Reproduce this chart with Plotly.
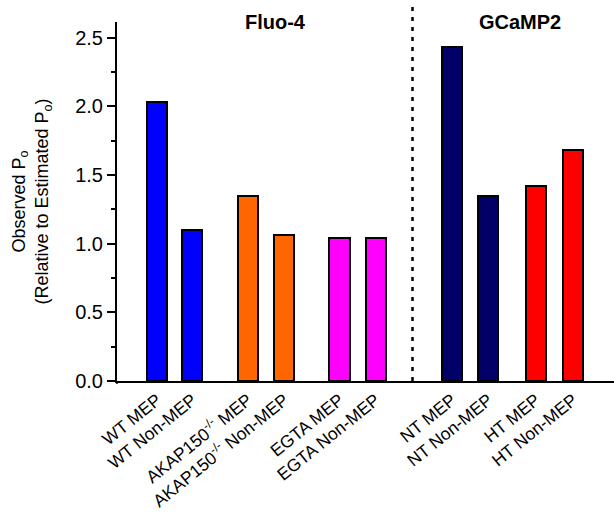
import plotly.graph_objects as go

labels = ["WT MEP", "WT Non-MEP", "AKAP150<sup>-/-</sup> MEP", "AKAP150<sup>-/-</sup> Non-MEP",
          "EGTA MEP", "EGTA Non-MEP", "NT MEP", "NT Non-MEP", "HT MEP", "HT Non-MEP"]
positions = [0, 0.97, 2.49, 3.49, 5.0, 5.99, 8.08, 9.08, 10.38, 11.4]
values = [2.03, 1.10, 1.35, 1.06, 1.04, 1.04, 2.43, 1.35, 1.42, 1.68]
colors = ["#0000FF", "#0000FF", "#FF6600", "#FF6600", "#FF00FF", "#FF00FF",
          "#000066", "#000066", "#FF0000", "#FF0000"]
group_titles = ["Fluo-4", "GCaMP2"]
group_title_x = [3.24, 9.95]
divider_x = 7.0
ytick_vals = [0.0, 0.5, 1.0, 1.5, 2.0, 2.5]
y_title = "Observed P<sub>o</sub><br>(Relative to Estimated P<sub>o</sub>)"

FONT = "Liberation Sans, Arial, sans-serif"

fig = go.Figure(go.Bar(
    x=positions, y=values, width=0.55,
    marker=dict(color=colors, line=dict(color="black", width=2)),
))

fig.update_layout(
    width=614, height=512,
    margin=dict(l=117, r=0, t=22, b=131),
    plot_bgcolor="white", paper_bgcolor="white",
    showlegend=False,
    font=dict(family=FONT, size=16, color="black"),
    bargap=0,
)
fig.update_xaxes(
    range=[-1.096, 12.52], showgrid=False, zeroline=False,
    showline=True, linecolor="black", linewidth=2,
    tickmode="array", tickvals=positions, ticktext=labels,
    tickangle=-39, ticks="", tickfont=dict(size=17.5),
)
fig.update_yaxes(
    range=[0, 2.615], showgrid=False, zeroline=False,
    showline=True, linecolor="black", linewidth=2,
    tickmode="array", tickvals=ytick_vals, ticktext=[f"{v:.1f}" for v in ytick_vals],
    ticks="outside", ticklen=8, tickwidth=2, tickcolor="black",
    tickfont=dict(size=20),
    minor=dict(dtick=0.25, tick0=0, ticks="outside", ticklen=4, tickwidth=2, tickcolor="black"),
)

fig.add_annotation(x=-0.173, y=0.5, xref="paper", yref="paper",
                   xanchor="center", yanchor="middle", textangle=-90,
                   text=y_title, showarrow=False, font=dict(size=18))

# small axis overshoots as in the reference
fig.add_shape(type="line", xref="paper", yref="paper", x0=-0.01, x1=0, y0=0, y1=0,
              line=dict(color="black", width=2))
fig.add_shape(type="line", xref="paper", yref="paper", x0=0, x1=0, y0=0, y1=-0.008,
              line=dict(color="black", width=2))

fig.add_shape(type="line", xref="x", yref="paper", x0=divider_x, x1=divider_x,
              y0=0, y1=1.047, line=dict(color="black", width=2.5, dash="4px,6px"))

for t, gx in zip(group_titles, group_title_x):
    fig.add_annotation(x=gx, y=1.0, xref="x", yref="paper", yanchor="middle",
                       text=f"<b>{t}</b>", showarrow=False, font=dict(size=20))

fig.write_html("out.html")
